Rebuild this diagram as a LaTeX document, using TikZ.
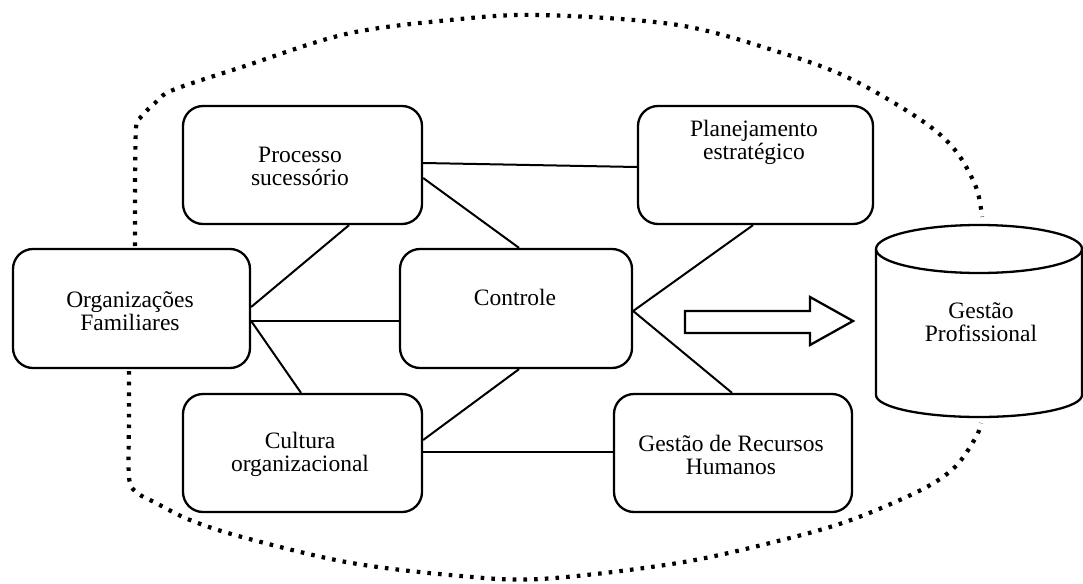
\documentclass[tikz,border=0pt]{standalone}
\usepackage{fontspec}
\setmainfont{Liberation Serif}
\begin{document}
\begin{tikzpicture}[x=1pt,y=-1pt,
  box/.style={draw, line width=2.3pt, rounded corners=20pt, inner sep=0pt},
  lbl/.style={align=center, font=\fontsize{23.5}{23}\selectfont, inner sep=0pt},
  link/.style={line width=2pt},
  shp/.style={line width=2.3pt},
  border/.style={line width=4.2pt, dash pattern=on 3.6pt off 7.1pt}]
\useasboundingbox (0,0) rectangle (1083,583);

% boxes
\node[box, minimum width=237pt, minimum height=119pt] (org) at (131.5,308.5) {};
\node[box, minimum width=239pt, minimum height=118pt] (proc) at (302.5,165) {};
\node[box, minimum width=235pt, minimum height=118pt] (plan) at (755.5,165) {};
\node[box, minimum width=232pt, minimum height=119pt] (ctrl) at (516,308.5) {};
\node[box, minimum width=239pt, minimum height=118pt] (cult) at (302.5,453) {};
\node[box, minimum width=238pt, minimum height=118pt] (rh) at (733,453) {};

% labels
\node[lbl] (orgt) at (130,311.5) {Organizações\\Familiares};
\node[lbl] (proct) at (300,166.5) {Processo\\sucessório};
\node[lbl] (plant) at (754,142.5) {Planejamento\\estratégico};
\node[lbl] (ctrlt) at (515,297) {Controle};
\node[lbl] (cultt) at (300,454.5) {Cultura\\organizacional};
\node[lbl] (rht) at (731,454.5) {Gestão de Recursos\\Humanos};

% connectors
\draw[link] ([yshift=2pt]proc.east) -- ([yshift=-2pt]plan.west);
\draw[link] ([yshift=-13pt]proc.east) -- ([xshift=3pt]ctrl.north);
\draw[link] ([xshift=46.5pt]proc.south) -- ([yshift=1.5pt]org.east);
\draw[link] ([yshift=-12.5pt]org.east) -- ([yshift=-12.5pt]ctrl.west);
\draw[link] ([yshift=-12.5pt]org.east) -- ([xshift=-1.5pt]cult.north);
\draw[link] ([yshift=-2.5pt]ctrl.east) -- ([xshift=-2.5pt]plan.south);
\draw[link] ([yshift=-2.5pt]ctrl.east) -- ([xshift=-1pt]rh.north);
\draw[link] ([xshift=3pt]ctrl.south) -- ([yshift=13pt]cult.east);
\draw[link] ([yshift=1pt]cult.east) -- ([yshift=1pt]rh.west);

% block arrow
\draw[shp] (685,311) -- (810,311) -- (810,297) -- (853,321) -- (810,345) -- (810,333) -- (685,333) -- cycle;

% cylinder
\draw[shp] (876,249) -- (876,395) arc[start angle=180, end angle=360, x radius=103pt, y radius=22pt] -- (1082,249);
\draw[shp] (979,249) ellipse [x radius=103pt, y radius=24pt];
\node[lbl] (gp) at (981,322) {Gestão\\Profissional};

% dotted boundary
\draw[border] plot[smooth, tension=0.55] coordinates {(135,246) (135,190) (136,128) (140,118) (155,103) (173,90) (242,67) (346,34) (450,20) (540,15) (678,25) (782,53) (851,79) (921,120) (955,150) (976,187) (982,217)};
\draw[border] plot[smooth, tension=0.55] coordinates {(129,371) (129,420) (129,477) (136,492) (156,503) (190,520) (242,537) (346,562) (450,575) (540,579) (678,563) (782,540) (851,520) (921,490) (955,467) (976,437) (981,423)};
\end{tikzpicture}
\end{document}
